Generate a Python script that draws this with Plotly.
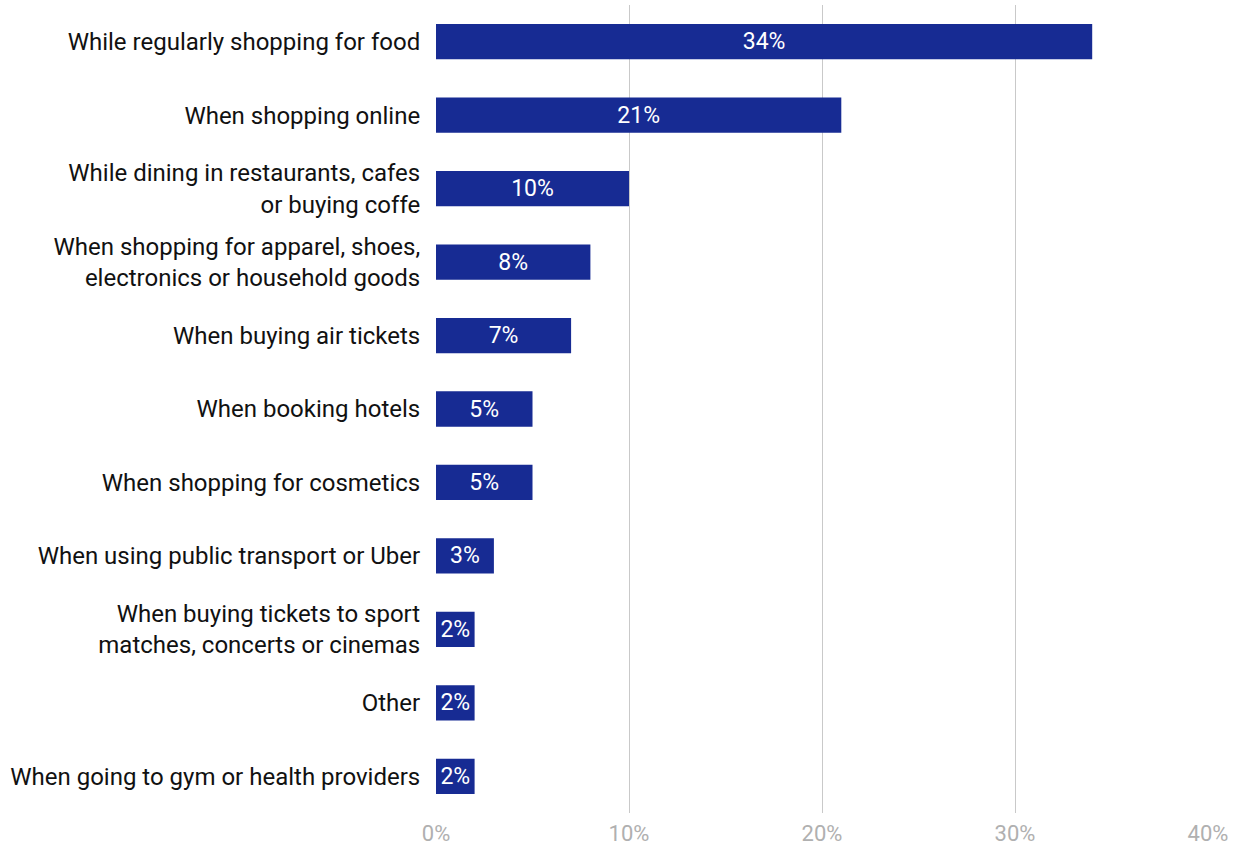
import plotly.graph_objects as go

categories = [
    "While regularly shopping for food",
    "When shopping online",
    "While dining in restaurants, cafes<br>or buying coffe",
    "When shopping for apparel, shoes,<br>electronics or household goods",
    "When buying air tickets",
    "When booking hotels",
    "When shopping for cosmetics",
    "When using public transport or Uber",
    "When buying tickets to sport<br>matches, concerts or cinemas",
    "Other",
    "When going to gym or health providers",
]
shares = [34, 21, 10, 8, 7, 5, 5, 3, 2, 2, 2]
tick_vals = [0, 10, 20, 30, 40]
tick_text = ["0%", "10%", "20%", "30%", "40%"]

fig = go.Figure(
    go.Bar(
        x=shares,
        y=categories,
        orientation="h",
        marker=dict(color="#172b93", line=dict(width=0)),
        text=[f"{v}%" for v in shares],
        textposition="inside",
        insidetextanchor="middle",
        constraintext="none",
        textfont=dict(family="Roboto", size=23, color="white"),
        cliponaxis=False,
    )
)

fig.update_layout(
    width=1245,
    height=849,
    margin=dict(l=436, r=37, t=5, b=36, autoexpand=False),
    paper_bgcolor="white",
    plot_bgcolor="white",
    bargap=0.52,
    showlegend=False,
    font=dict(family="Roboto", size=24, color="#111111"),
)

fig.update_xaxes(
    range=[0, 40],
    tickvals=tick_vals,
    ticktext=tick_text,
    showgrid=True,
    gridcolor="#c9c9c9",
    gridwidth=1,
    zeroline=False,
    showline=False,
    automargin=False,
    tickfont=dict(family="Roboto", size=22, color="#b0b0b0"),
    ticks="outside",
    ticklen=1,
    tickcolor="rgba(0,0,0,0)",
)

fig.update_yaxes(
    autorange="reversed",
    showgrid=False,
    showline=False,
    zeroline=False,
    automargin=False,
    ticks="outside",
    ticklen=10,
    tickcolor="rgba(0,0,0,0)",
    tickfont=dict(family="Roboto", size=24, color="#111111"),
)

fig.write_html("out.html")
